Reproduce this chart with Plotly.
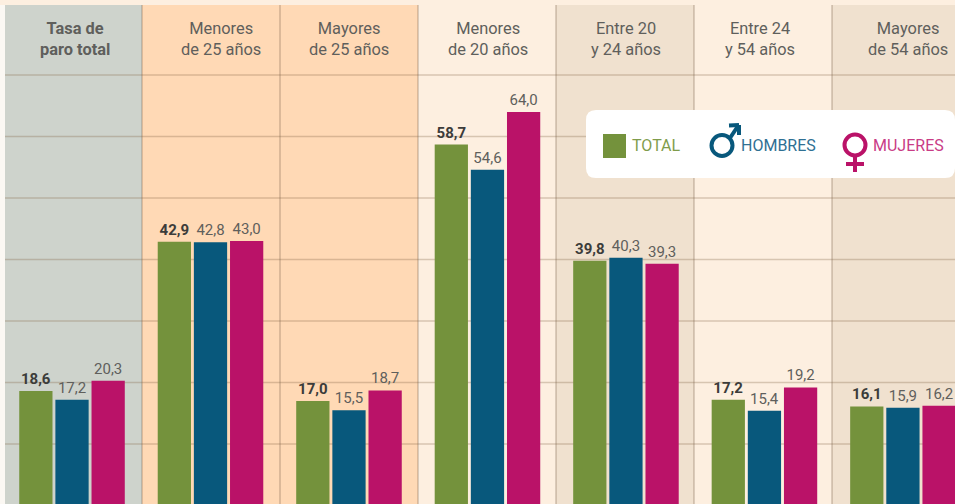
import plotly.graph_objects as go

categories = ["Tasa de paro total", "Menores de 25 años", "Mayores de 25 años", "Menores de 20 años",
              "Entre 20 y 24 años", "Entre 24 y 54 años", "Mayores de 54 años"]
headers = ["<b>Tasa de<br>paro total</b>", "Menores<br>de 25 años", "Mayores<br>de 25 años", "Menores<br>de 20 años",
           "Entre 20<br>y 24 años", "Entre 24<br>y 54 años", "Mayores<br>de 54 años"]
total = [18.6, 42.9, 17.0, 58.7, 39.8, 17.2, 16.1]
hombres = [17.2, 42.8, 15.5, 54.6, 40.3, 15.4, 15.9]
mujeres = [20.3, 43.0, 18.7, 64.0, 39.3, 19.2, 16.2]
grid_values = [10, 20, 30, 40, 50, 60, 70]

W, H = 955, 504
FONT = "Roboto"
GREEN, BLUE, RED = "#74923C", "#08587C", "#BA1268"
GREY_TXT = "#5f5f5c"

px = lambda x: x / W
py = lambda y: 1 - y / H
lab = lambda vals: [f"{v:.1f}".replace(".", ",") for v in vals]

fig = go.Figure()
for name, vals, col, txtcol in [
    ("Total", total, GREEN, "#3c3c3a"),
    ("Hombres", hombres, BLUE, GREY_TXT),
    ("Mujeres", mujeres, RED, GREY_TXT),
]:
    texts = lab(vals)
    if name == "Total":
        texts = [f"<b>{t}</b>" for t in texts]
    fig.add_trace(go.Bar(x=list(range(7)), y=vals, name=name, marker=dict(color=col, line=dict(width=0)),
                         text=texts, textposition="outside", cliponaxis=False, textangle=0,
                         constraintext="none", textfont=dict(family=FONT, size=15, color=txtcol)))

shapes = []
def rect(x0, y0, x1, y1, fill):
    shapes.append(dict(type="rect", xref="paper", yref="paper", x0=px(x0), x1=px(x1), y0=py(y1), y1=py(y0),
                       fillcolor=fill, line_width=0, layer="below"))

edges = [5, 142, 280, 418, 556, 694, 832, 955]
fills = ["#CED3CC", "#FFD9B5", "#FFD9B5", "#FDEFE0", "#F0E1CF", "#FDEFE0", "#F0E1CF"]
rect(0, 0, W, 5, "#FDEFE0")
for i, f in enumerate(fills):
    rect(edges[i], 5, edges[i + 1], H, f)
for g in grid_values:
    shapes.append(dict(type="line", xref="paper", yref="y", x0=px(5), x1=1, y0=g, y1=g,
                       line=dict(color="rgba(130,100,70,0.3)", width=1.5), layer="below"))
for e in edges[1:-1]:
    shapes.append(dict(type="line", xref="paper", yref="paper", x0=px(e), x1=px(e), y0=0, y1=py(5),
                       line=dict(color="rgba(120,95,70,0.34)", width=1.5), layer="below"))

# legend box
bx0, by0, bx1, by1, r = px(586), py(110), px(955), py(178), 10
rx, ry = r / W, r / H
shapes.append(dict(type="path", xref="paper", yref="paper", fillcolor="white", line_width=0, layer="above",
    path=f"M{bx0+rx},{by0} L{bx1-rx},{by0} Q{bx1},{by0} {bx1},{by0-ry} L{bx1},{by1+ry} Q{bx1},{by1} {bx1-rx},{by1} "
         f"L{bx0+rx},{by1} Q{bx0},{by1} {bx0},{by1+ry} L{bx0},{by0-ry} Q{bx0},{by0} {bx0+rx},{by0} Z"))
shapes.append(dict(type="rect", xref="paper", yref="paper", x0=px(603), x1=px(626), y0=py(158), y1=py(134),
                   fillcolor=GREEN, line_width=0, layer="above"))
def circle(cx, cy, rad, col):
    shapes.append(dict(type="circle", xref="paper", yref="paper", x0=px(cx - rad), x1=px(cx + rad),
                       y0=py(cy + rad), y1=py(cy - rad), line=dict(color=col, width=4), layer="above"))
def seg(x0, y0, x1, y1, col):
    shapes.append(dict(type="line", xref="paper", yref="paper", x0=px(x0), x1=px(x1), y0=py(y0), y1=py(y1),
                       line=dict(color=col, width=4), layer="above"))
circle(722, 145.5, 10.5, BLUE)
seg(730, 138, 738, 126, BLUE)
seg(729, 125.5, 739, 125, BLUE)
seg(739, 125, 739, 135, BLUE)
circle(855, 145, 10.5, RED)
seg(855, 156, 855, 172, RED)
seg(846, 164, 864, 164, RED)

ann = []
for h, cx in zip(headers, [75, 221, 349, 488, 626, 760, 908]):
    ann.append(dict(text=h, x=px(cx), y=py(39.5), xref="paper", yref="paper", showarrow=False,
                    xanchor="center", yanchor="middle", align="center",
                    font=dict(family=FONT, size=16.4, color=GREY_TXT)))
for t, x, c in [("TOTAL", 630, "#7f9c4c"), ("HOMBRES", 739, "#2f7093"), ("MUJERES", 871, "#c93c86")]:
    ann.append(dict(text=t, x=px(x), y=py(145), xref="paper", yref="paper", showarrow=False,
                    xanchor="left", yanchor="middle", font=dict(family=FONT, size=16, color=c)))

fig.update_layout(
    width=W, height=H, margin=dict(l=0, r=0, t=0, b=0), showlegend=False,
    paper_bgcolor="#FBF8F3", plot_bgcolor="rgba(0,0,0,0)",
    barmode="group", bargap=0.217, bargroupgap=0.08,
    xaxis=dict(range=[-0.52, 6.376], showgrid=False, showticklabels=False, zeroline=False, ticks="", fixedrange=True),
    yaxis=dict(range=[0.24, 82.2], showgrid=False, showticklabels=False, zeroline=False, ticks="", fixedrange=True),
    shapes=shapes, annotations=ann,
)
fig.write_html("out.html", config={"displayModeBar": False},
               post_script="document.body.style.margin='0';document.body.style.overflow='hidden';")
